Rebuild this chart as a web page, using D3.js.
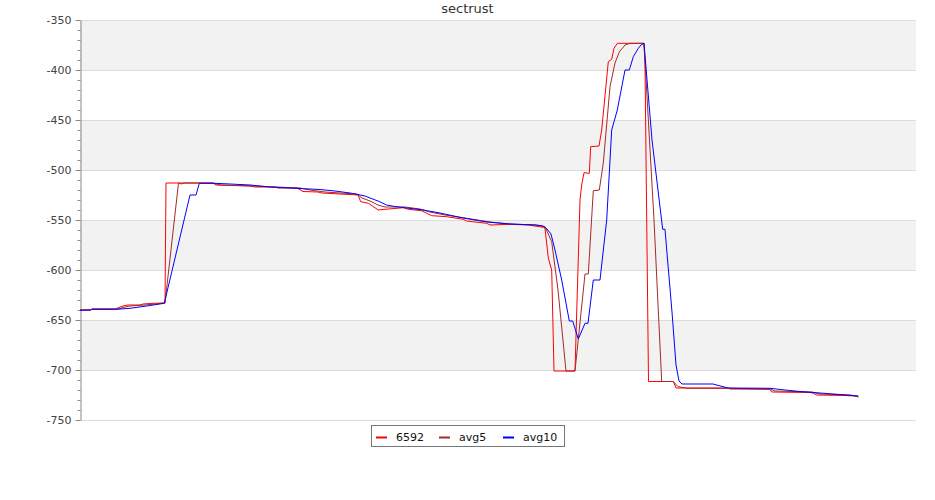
<!DOCTYPE html>
<html>
<head>
<meta charset="utf-8">
<script src="https://cdn.jsdelivr.net/npm/d3@7"></script>
<style>
  html, body { margin: 0; padding: 0; background: #fff; }
  svg { display: block; font-family: "DejaVu Sans", sans-serif; }
</style>
</head>
<body>
<svg id="chart" width="935" height="500"></svg>
<script>
// ---- data ----
const title = "sectrust";
const seriesNames = ["6592", "avg5", "avg10"];
const seriesColors = ["#ff0000", "#a52a2a", "#0000ff"];
const yTicks = [-350, -400, -450, -500, -550, -600, -650, -700, -750];
const xDomain = [0, 836];
const yDomain = [-750, -350];

// [sample position, value]
const s6592 = [
  [0,-640],[11,-640],[12,-639],[35,-639],[44,-635.7],[48,-635],[60,-635],[63,-634],[73,-633.3],[85,-633],
  [86,-513],[99,-513],[101,-514],[104,-513],[133,-513],[136,-515],[170,-516],[175,-517],[195,-517],[198,-518],
  [217,-518],[223,-521.5],[238,-522],[242,-523],[260,-524],[278,-525],[280.7,-531.7],[288.3,-533.3],[298.3,-540],
  [305,-539.3],[323.3,-537.7],[328.3,-539.3],[341.7,-540.7],[346.7,-543.3],[351.7,-545.7],[366.7,-546.7],
  [383.3,-549.3],[386.7,-551],[406.7,-553.3],[410,-555],[430,-554.3],[448.3,-555],[463.3,-557.3],[465,-558.3],
  [468.3,-588],[471.7,-600],[474,-701],[495,-701],[500,-530],[501.7,-515],[504,-502.7],[509.3,-503.3],
  [510.7,-476.7],[519,-476],[521.7,-460],[528.3,-391.7],[531.7,-389.3],[534,-378.3],[537.3,-373.3],[564,-373.3],
  [565,-395],[568.5,-711.5],[593.3,-711.5],[596,-718],[648,-718],[650,-719],[690,-719.3],[691.7,-722],
  [730,-722.5],[733,-723],[736.7,-725],[765,-725.5],[775,-726],[778.3,-727]
];
const sAvg5 = [
  [0,-640],[11,-640],[12,-639],[38,-639],[45,-637],[50,-636],[65,-635],[75,-634],[85,-633],
  [98.5,-513],[133,-513],[140,-515],[175,-516],[195,-517],[220,-518],[230,-520],[245,-522],[260,-523],
  [277,-524],[282,-528],[290,-531],[298,-535],[305,-537],[325,-537],[340,-539],[350,-542],[365,-545],
  [385,-548],[410,-552],[430,-554],[455,-555],[465,-556.7],[471.7,-571.7],[478,-620],[486,-701],[495,-701],
  [505,-604],[508.3,-604],[513.3,-520.7],[519.3,-520],[523.3,-493],[530,-416.7],[535,-393],[539.3,-382],
  [545,-375],[550,-373.3],[564,-373.3],[574,-550],[581.7,-711.5],[593.3,-711.5],[598,-716.7],[608,-718.3],
  [650,-718.3],[690,-719],[695,-721],[732,-722],[740,-724],[770,-725],[778.3,-726.5]
];
const sAvg10 = [
  [0,-640.3],[10,-640],[11.7,-639.3],[36.7,-639.3],[50,-638.3],[66.7,-636],[84.3,-633.3],
  [110,-525],[116,-525],[119.3,-513.3],[135,-513.3],[150,-514],[170,-515],[190,-517],[220,-518.5],
  [240,-519.5],[255,-521],[270,-523],[278,-524.5],[285,-526],[290,-528],[298,-531],[306.7,-535],
  [315,-536.5],[326.7,-538],[343,-540],[360,-543],[383,-548],[406.7,-552],[430,-554],[456.7,-555],
  [463,-556],[467,-559],[471,-564],[475,-580],[481.7,-610],[489.3,-651],[492.7,-651],[498.3,-669],
  [505,-653.3],[508,-653.3],[513.3,-610],[520,-610],[526.7,-550],[531.7,-460],[537.3,-440],[545,-400],
  [549.3,-400],[553.3,-386.7],[558.3,-378.3],[561,-375],[564,-373.3],[572,-470],[582.7,-559.3],
  [585,-559.3],[588,-595],[592,-642],[596,-695],[599,-711],[602,-714],[633,-714],[648,-718],[690,-718.3],
  [705,-720],[720,-721.5],[740,-723],[760,-724.5],[778.3,-726]
];
const allSeries = [s6592, sAvg5, sAvg10];

// ---- layout ----
const svg = d3.select("#chart");
const margin = { left: 80, top: 20, right: 19, bottom: 80 };
const W = 935 - margin.left - margin.right;
const H = 500 - margin.top - margin.bottom;
const g = svg.append("g").attr("transform", `translate(${margin.left},${margin.top})`);

const x = d3.scaleLinear().domain(xDomain).range([0, W]);
const y = d3.scaleLinear().domain(yDomain).range([H, 0]);

// alternating bands
const bands = d3.pairs(yTicks).filter((_, i) => i % 2 === 0);
g.selectAll("rect.band").data(bands).enter().append("rect")
  .attr("class", "band")
  .attr("x", 0).attr("width", W)
  .attr("y", d => y(d[0])).attr("height", d => y(d[1]) - y(d[0]))
  .attr("fill", "#f2f2f2");

// grid lines
g.selectAll("line.grid").data(yTicks).enter().append("line")
  .attr("class", "grid")
  .attr("x1", 0).attr("x2", W)
  .attr("y1", d => Math.round(y(d)) + 0.5).attr("y2", d => Math.round(y(d)) + 0.5)
  .attr("stroke", "#dcdcdc").attr("stroke-width", 1);

// minor ticks
const minor = d3.range(-750, -349, 10).filter(v => !yTicks.includes(v));
const minorAxis = g.append("g").attr("transform", "translate(0.5,0)")
  .call(d3.axisLeft(y).tickValues(minor).tickSize(3).tickFormat(""));
minorAxis.select(".domain").remove();
minorAxis.selectAll("line").attr("stroke", "#888");

// major axis
const yAxis = g.append("g").attr("transform", "translate(0.5,0)")
  .call(d3.axisLeft(y).tickValues(yTicks).tickSize(5).tickPadding(4).tickFormat(d => String(d)).tickSizeOuter(0));
yAxis.select(".domain").attr("stroke", "#888");
yAxis.selectAll(".tick line").attr("stroke", "#888");
yAxis.selectAll("text").attr("fill", "#444").style("font-size", "11px").style("font-family", "DejaVu Sans, sans-serif");

// lines
const line = d3.line().x(d => x(d[0])).y(d => y(d[1]));
g.selectAll("path.series").data(allSeries).enter().append("path")
  .attr("class", "series")
  .attr("d", line)
  .attr("fill", "none")
  .attr("stroke", (d, i) => seriesColors[i])
  .attr("stroke-width", 1);

// title
svg.append("text").attr("x", 935 / 2).attr("y", 13)
  .attr("text-anchor", "middle").attr("fill", "#333")
  .style("font-size", "13px").text(title);

// legend
const lg = svg.append("g").attr("transform", "translate(371.5,425.5)");
lg.append("rect").attr("width", 193).attr("height", 21)
  .attr("fill", "#fff").attr("stroke", "#777");
const itemX = [4.5, 67.5, 131.5];
seriesNames.forEach((name, i) => {
  lg.append("line").attr("x1", itemX[i]).attr("x2", itemX[i] + 11)
    .attr("y1", 12).attr("y2", 12)
    .attr("stroke", seriesColors[i]).attr("stroke-width", 2);
  lg.append("text").attr("x", itemX[i] + 20).attr("y", 15)
    .attr("fill", "#111").style("font-size", "11px").text(name);
});
</script>
</body>
</html>
